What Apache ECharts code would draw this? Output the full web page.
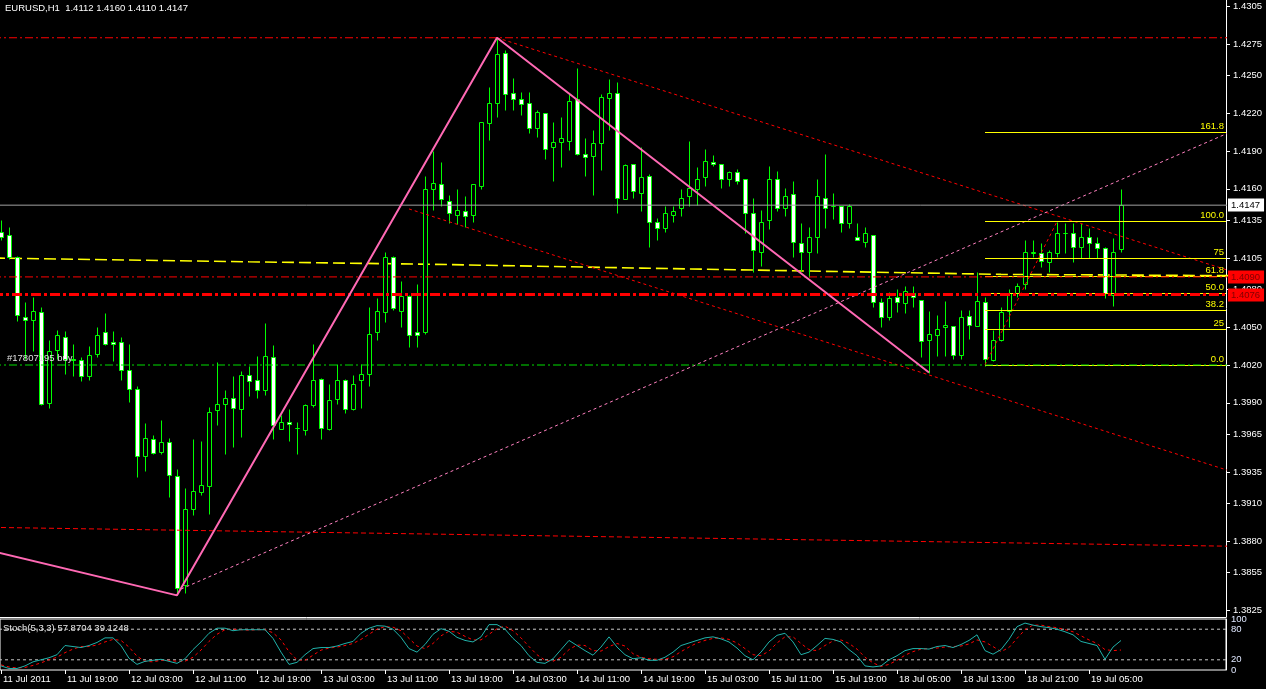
<!DOCTYPE html>
<html><head><meta charset="utf-8">
<script src="https://cdn.jsdelivr.net/npm/echarts@6/dist/echarts.min.js"></script>
<style>html,body{margin:0;padding:0;background:#000;overflow:hidden}#c{width:1266px;height:689px;}</style>
</head><body><div id="c"></div>
<script>
// ---------- text ----------
const headerText = 'EURUSD,H1  1.4112 1.4160 1.4110 1.4147';
const stochText = 'Stoch(5,3,3) 57.8704 39.1248';
const orderText = '#17807195 buy';

// ---------- candles (H1 bars, index 0 = 11 Jul 11:00) ----------
const opens = [1.4126,1.4123,1.4106,1.4058,1.4056,1.4062,1.3990,1.4032,1.4042,1.4025,
1.4024,1.4011,1.4029,1.4046,1.4038,1.4038,1.4016,1.4001,1.3948,1.3961,
1.3951,1.3959,1.3932,1.3845,1.3906,1.3919,1.3924,1.3984,1.3989,1.3994,
1.3985,1.4012,1.4008,1.4000,1.4026,1.3969,1.3975,1.3970,1.3968,1.3988,
1.4009,1.3969,1.3993,1.4008,1.3985,1.4008,1.4013,1.4046,1.4062,1.4106,
1.4063,1.4075,1.4046,1.4046,1.4160,1.4164,1.4150,1.4139,1.4142,1.4139,
1.4162,1.4212,1.4228,1.4268,1.4236,1.4231,1.4228,1.4208,1.4220,1.4193,
1.4197,1.4198,1.4231,1.4188,1.4186,1.4196,1.4232,1.4236,1.4152,1.4180,
1.4157,1.4170,1.4134,1.4129,1.4139,1.4145,1.4154,1.4160,1.4169,1.4181,
1.4180,1.4168,1.4173,1.4168,1.4141,1.4110,1.4135,1.4168,1.4145,1.4156,
1.4117,1.4110,1.4122,1.4153,1.4146,1.4146,1.4133,1.4122,1.4118,1.4123,
1.4070,1.4058,1.4074,1.4069,1.4077,1.4072,1.4040,1.4044,1.4050,1.4051,
1.4028,1.4059,1.4051,1.4070,1.4024,1.4040,1.4063,1.4077,1.4084,1.4109,
1.4109,1.4102,1.4109,1.4125,1.4125,1.4114,1.4122,1.4117,1.4113,1.4076,
1.4112];
const highs = [1.4135,1.4130,1.4107,1.4070,1.4074,1.4066,1.4040,1.4048,1.4047,1.4037,
1.4026,1.4035,1.4050,1.4061,1.4047,1.4042,1.4037,1.4003,1.3974,1.3964,
1.3976,1.3962,1.3937,1.3922,1.3961,1.3960,1.3987,1.4022,1.4000,1.4011,
1.4015,1.4019,1.4027,1.4053,1.4036,1.3980,1.3985,1.3975,1.3989,1.4037,
1.4010,1.4005,1.4021,1.4009,1.4012,1.4021,1.4066,1.4073,1.4110,1.4107,
1.4087,1.4076,1.4084,1.4170,1.4190,1.4181,1.4155,1.4160,1.4154,1.4164,
1.4213,1.4241,1.4280,1.4270,1.4248,1.4237,1.4237,1.4223,1.4220,1.4213,
1.4217,1.4235,1.4256,1.4200,1.4207,1.4235,1.4247,1.4245,1.4180,1.4180,
1.4193,1.4172,1.4137,1.4146,1.4146,1.4160,1.4198,1.4177,1.4192,1.4187,
1.4180,1.4174,1.4176,1.4168,1.4153,1.4143,1.4178,1.4174,1.4161,1.4166,
1.4133,1.4130,1.4168,1.4188,1.4157,1.4146,1.4148,1.4133,1.4130,1.4123,
1.4073,1.4078,1.4080,1.4083,1.4083,1.4072,1.4063,1.4060,1.4071,1.4051,
1.4064,1.4064,1.4094,1.4074,1.4048,1.4066,1.4080,1.4085,1.4119,1.4119,
1.4117,1.4111,1.4134,1.4133,1.4133,1.4133,1.4129,1.4122,1.4114,1.4121,
1.4160];
const lows = [1.4119,1.4104,1.4055,1.4025,1.4031,1.3988,1.3986,1.4025,1.4013,1.4011,
1.4007,1.4008,1.4026,1.4036,1.4023,1.4008,1.3991,1.3931,1.3936,1.3949,
1.3949,1.3915,1.3837,1.3839,1.3901,1.3917,1.3902,1.3972,1.3949,1.3955,
1.3963,1.3995,1.3994,1.3996,1.3961,1.3969,1.3960,1.3949,1.3964,1.3987,
1.3961,1.3968,1.3989,1.3982,1.3984,1.3986,1.4003,1.4040,1.4054,1.4064,
1.4050,1.4034,1.4034,1.4045,1.4143,1.4146,1.4133,1.4132,1.4130,1.4134,
1.4160,1.4199,1.4217,1.4223,1.4223,1.4219,1.4204,1.4201,1.4184,1.4166,
1.4177,1.4191,1.4187,1.4170,1.4155,1.4175,1.4207,1.4141,1.4152,1.4153,
1.4142,1.4114,1.4119,1.4126,1.4134,1.4138,1.4146,1.4147,1.4162,1.4178,
1.4161,1.4162,1.4164,1.4125,1.4094,1.4099,1.4128,1.4142,1.4138,1.4106,
1.4095,1.4090,1.4109,1.4129,1.4136,1.4126,1.4129,1.4119,1.4114,1.4066,
1.4050,1.4056,1.4062,1.4061,1.4066,1.4026,1.4014,1.4027,1.4027,1.4025,
1.4025,1.4041,1.4051,1.4019,1.4023,1.4039,1.4050,1.4074,1.4080,1.4106,
1.4098,1.4094,1.4106,1.4109,1.4102,1.4105,1.4105,1.4105,1.4073,1.4067,
1.4110];
const closes = [1.4122,1.4106,1.4060,1.4056,1.4063,1.3989,1.4031,1.4044,1.4025,1.4024,
1.4011,1.4028,1.4044,1.4037,1.4037,1.4016,1.4001,1.3948,1.3962,1.3950,
1.3959,1.3933,1.3843,1.3906,1.3920,1.3925,1.3983,1.3989,1.3994,1.3986,
1.4012,1.4007,1.4000,1.4027,1.3972,1.3975,1.3973,1.3970,1.3988,1.4008,
1.3970,1.3992,1.4008,1.3985,1.4005,1.4013,1.4045,1.4063,1.4106,1.4065,
1.4075,1.4044,1.4044,1.4160,1.4165,1.4152,1.4141,1.4143,1.4138,1.4164,
1.4213,1.4228,1.4267,1.4235,1.4231,1.4227,1.4208,1.4221,1.4192,1.4197,
1.4200,1.4230,1.4188,1.4185,1.4196,1.4233,1.4236,1.4153,1.4179,1.4158,
1.4169,1.4134,1.4129,1.4141,1.4142,1.4153,1.4161,1.4168,1.4182,1.4180,
1.4168,1.4173,1.4166,1.4141,1.4111,1.4134,1.4168,1.4145,1.4154,1.4118,
1.4110,1.4122,1.4154,1.4145,1.4146,1.4133,1.4146,1.4119,1.4125,1.4070,
1.4058,1.4073,1.4070,1.4079,1.4074,1.4039,1.4045,1.4049,1.4052,1.4028,
1.4058,1.4052,1.4071,1.4025,1.4040,1.4062,1.4077,1.4083,1.4110,1.4110,
1.4103,1.4110,1.4125,1.4125,1.4114,1.4122,1.4117,1.4113,1.4077,1.4110,
1.4147];

// ---------- stochastic ----------
const stochK = [8,3,3,8,16,20,24,30,48,46,
44,48,54,63,63,48,23,11,17,19,
21,17,13,22,40,55,72,82,82,77,
79,79,79,79,62,35,11,15,30,42,
44,44,47,52,56,72,82,87,86,80,
64,42,35,50,70,81,76,64,58,55,
65,89,89,80,62,48,28,15,13,22,
40,58,48,38,29,45,65,45,30,22,
24,19,19,25,35,48,53,58,63,65,
61,55,43,28,20,35,55,68,72,55,
30,35,48,62,60,55,40,28,8,6,
8,20,28,38,42,42,41,46,48,44,
50,58,69,38,31,40,60,85,92,88,
85,83,80,75,69,56,52,48,21,45,
57.8704];
const stochD = [10,6,4,5,9,14,20,25,34,41,
46,46,49,55,60,58,45,27,17,16,
19,19,17,17,25,39,56,70,79,80,
79,78,79,79,73,59,36,20,19,29,
39,43,45,48,52,60,70,80,85,84,
77,62,47,42,52,67,76,74,66,59,
59,70,81,86,77,63,46,30,19,17,
25,40,49,48,38,37,46,52,47,32,
25,22,21,21,26,36,45,53,58,62,
63,60,53,42,30,28,37,53,65,65,
52,40,38,48,57,59,52,41,25,14,
7,11,19,29,36,41,42,43,45,46,
47,51,59,55,46,36,44,62,79,88,
88,85,83,79,75,67,59,52,40,38,
39.1248];
const stochLevels = [80, 20];
const stochTicks = [0, 20, 80, 100];

// ---------- axes ----------
const timeTickIdx = [0,8,16,24,32,40,48,56,64,72,80,88,96,104,112,120,128,136];
const timeTickLabels = ['11 Jul 2011','11 Jul 19:00','12 Jul 03:00','12 Jul 11:00','12 Jul 19:00','13 Jul 03:00','13 Jul 11:00','13 Jul 19:00','14 Jul 03:00','14 Jul 11:00','14 Jul 19:00','15 Jul 03:00','15 Jul 11:00','15 Jul 19:00','18 Jul 05:00','18 Jul 13:00','18 Jul 21:00','19 Jul 05:00'];
const priceTicks = [1.4305,1.4275,1.4250,1.4220,1.4190,1.4160,1.4135,1.4105,1.4080,1.4050,1.4020,1.3990,1.3965,1.3935,1.3910,1.3880,1.3855,1.3825];

// ---------- drawn objects ([bar index, price]) ----------
const currentPrice = 1.4147;
const topLevel = 1.4280;
const redLevelA = 1.4090;
const redLevelB = 1.4076;
const orderLevel = 1.4020;
const zigzag = [[-1,1.3872],[22,1.3837],[62,1.4280],[116,1.4014]];
const channelUpper = [[62,1.4280],[154,1.4094]];
const channelLower = [[51,1.4144],[154,1.3935]];
const risingLine = [[22.5,1.3842],[154,1.4206]];
const lowLine = [[-1,1.3891],[154,1.3876]];
const maLine = [[-1,1.4105],[31,1.4102],[54,1.4100],[80,1.4097],[125,1.4092],[154,1.4091]];
const fibAnchor = [[123,1.4020],[132,1.4134]];
const fibStartBar = 123;
const fibLabels = ['0.0','25','38.2','50.0','61.8','75','100.0','161.8'];
const fibPrices = [1.4020,1.4048,1.4063,1.4077,1.4090,1.4105,1.4134,1.4205];

// ---------- chart ----------
const X_MIN = -0.125, X_MAX = 153.125, Y_MIN = 1.38198, Y_MAX = 1.43100;
const X_LEFT = -1, X_RIGHT = 154;
const FONT = '"Liberation Sans", Arial, sans-serif';
const FS = 9.5;
const GREEN = '#00ff00';

function lineSeries(points, color, width, type, z, axisIdx) {
  const a = axisIdx || 0;
  return { type: 'line', xAxisIndex: a, yAxisIndex: a, data: points, symbol: 'none', silent: true,
    animation: false, clip: true, z: z || 4, lineStyle: { color: color, width: width, type: type } };
}
function levelSeries(value, color, width, type, z, axisIdx) {
  return lineSeries([[X_LEFT, value], [X_RIGHT, value]], color, width, type, z, axisIdx);
}

// price box on the right scale for a level
function priceBox(value, bg, fg, z) {
  return {
    type: 'custom', xAxisIndex: 0, yAxisIndex: 0, clip: false, z: z || 8, animation: false, silent: true,
    data: [[0, value]],
    encode: { x: 0, y: 1 },
    renderItem: function (params, api) {
      const cs = params.coordSys;
      const yy = api.coord([0, api.value(1)])[1];
      return { type: 'text', x: cs.x + cs.width + 2, y: Math.round(yy),
        style: { text: api.value(1).toFixed(4), fill: fg, font: FS + 'px ' + FONT, align: 'left', verticalAlign: 'middle',
          backgroundColor: bg, padding: [2, 4, 1, 3] } };
    }
  };
}

const orderLabelSeries = {
  type: 'custom', xAxisIndex: 0, yAxisIndex: 0, clip: false, z: 8, animation: false, silent: true,
  data: [[0, orderLevel]],
  encode: { x: 0, y: 1 },
  renderItem: function (params, api) {
    const cs = params.coordSys;
    const yy = api.coord([0, api.value(1)])[1];
    return { type: 'text', x: cs.x + 7, y: Math.round(yy) - 2,
      style: { text: orderText, fill: '#e0e0e0', font: FS + 'px ' + FONT, align: 'left', verticalAlign: 'bottom' } };
  }
};

const candleSeries = {
  type: 'custom', xAxisIndex: 0, yAxisIndex: 0, clip: true, z: 3, animation: false, silent: true,
  data: opens.map((o, i) => [i, o, highs[i], lows[i], closes[i]]),
  encode: { x: 0, y: [1, 2, 3, 4] },
  renderItem: function (params, api) {
    const i = api.value(0), o = api.value(1), h = api.value(2), l = api.value(3), c = api.value(4);
    const pO = api.coord([i, o]), pH = api.coord([i, h]), pL = api.coord([i, l]), pC = api.coord([i, c]);
    const x = Math.round(pO[0] - 0.5) + 0.5;
    const yH = Math.round(pH[1]) + 0.5, yL = Math.round(pL[1]) + 0.5;
    const yO = Math.round(pO[1]) + 0.5, yC = Math.round(pC[1]) + 0.5;
    const top = Math.min(yO, yC), bot = Math.max(yO, yC);
    const bull = c >= o;
    return { type: 'group', children: [
      { type: 'line', shape: { x1: x, y1: yH, x2: x, y2: yL }, style: { stroke: GREEN, lineWidth: 1 } },
      { type: 'rect', shape: { x: x - 2, y: top, width: 4, height: bot - top },
        style: { fill: bull ? '#000000' : '#ffffff', stroke: GREEN, lineWidth: 1 } }
    ] };
  }
};

const fibSeries = {
  type: 'custom', xAxisIndex: 0, yAxisIndex: 0, clip: false, z: 5, animation: false, silent: true,
  data: fibPrices.map((p, k) => [fibStartBar, p, k]),
  encode: { x: 0, y: 1 },
  renderItem: function (params, api) {
    const p0 = api.coord([api.value(0), api.value(1)]);
    const right = params.coordSys.x + params.coordSys.width;
    const y = Math.round(p0[1] - 0.5) + 0.5;
    const k = api.value(2);
    return { type: 'group', children: [
      { type: 'line', shape: { x1: Math.round(p0[0]), y1: y, x2: right, y2: y }, style: { stroke: '#ffff00', lineWidth: 1 } },
      { type: 'text', x: right - 2, y: y - 1,
        style: { text: fibLabels[k], fill: '#ffff00', font: FS + 'px ' + FONT, align: 'right', verticalAlign: 'bottom' } }
    ] };
  }
};

const option = {
  backgroundColor: '#000000',
  animation: false,
  title: [
    { text: headerText, left: 5, top: 3, padding: 0, textStyle: { color: '#ffffff', fontSize: FS, fontWeight: 'normal', fontFamily: FONT } },
    { text: stochText, left: 3, top: 623, padding: 0, textStyle: { color: '#e8e8e8', fontSize: FS, fontWeight: 'normal', fontFamily: FONT } }
  ],
  grid: [
    { left: 0, top: 0, width: 1226, height: 617 },
    { left: 0, top: 619, width: 1226, height: 51, show: true, borderColor: '#ffffff', borderWidth: 1, backgroundColor: 'transparent' }
  ],
  xAxis: [
    { type: 'value', gridIndex: 0, min: X_MIN, max: X_MAX, splitLine: { show: false },
      axisLine: { show: true, onZero: false, lineStyle: { color: '#ffffff' } }, axisTick: { show: false }, axisLabel: { show: false } },
    { type: 'value', gridIndex: 1, min: X_MIN, max: X_MAX, splitLine: { show: false },
      axisLine: { show: false, onZero: false },
      axisTick: { show: true, customValues: timeTickIdx, length: 4, lineStyle: { color: '#ffffff' } },
      axisLabel: { show: true, customValues: timeTickIdx, color: '#ffffff', fontSize: FS, fontFamily: FONT, align: 'left',
        margin: 4, padding: [0, 0, 0, 2],
        formatter: v => { const k = timeTickIdx.indexOf(Math.round(v)); return k >= 0 ? timeTickLabels[k] : ''; } } }
  ],
  yAxis: [
    { type: 'value', gridIndex: 0, position: 'right', min: Y_MIN, max: Y_MAX, splitLine: { show: false },
      axisLine: { show: true, onZero: false, lineStyle: { color: '#ffffff' } },
      axisTick: { show: true, customValues: priceTicks, length: 4, lineStyle: { color: '#ffffff' } },
      axisLabel: { show: true, customValues: priceTicks, color: '#ffffff', fontSize: FS, fontFamily: FONT, margin: 7,
        formatter: v => v.toFixed(4) } },
    { type: 'value', gridIndex: 1, position: 'right', min: 0, max: 100, splitLine: { show: false },
      axisLine: { show: true, onZero: false, lineStyle: { color: '#ffffff' } },
      axisTick: { show: false },
      axisLabel: { show: true, customValues: stochTicks, color: '#e0e8ff', fontSize: FS, fontFamily: FONT, margin: 5 } }
  ],
  series: [
    lineSeries(maLine, '#ffff00', 1.6, [12, 5], 2),
    candleSeries,
    levelSeries(topLevel, '#ff0000', 1, [8, 3, 2, 3], 5),
    levelSeries(orderLevel, '#00dd00', 1, [8, 3, 2, 3], 5),
    levelSeries(redLevelA, '#ff0000', 1, [8, 3, 2, 3], 5),
    levelSeries(redLevelB, '#ff0000', 3, [10, 3, 3, 3], 5),
    levelSeries(currentPrice, '#a0a0a0', 1, 'solid', 5),
    priceBox(redLevelA, '#ff0000', '#800000', 8),
    priceBox(redLevelB, '#ff0000', '#800000', 8),
    priceBox(currentPrice, '#ffffff', '#000000', 8),
    orderLabelSeries,
    lineSeries(lowLine, '#ff0000', 1, [5, 3]),
    lineSeries(channelUpper, '#ff0000', 1, [3, 3]),
    lineSeries(channelLower, '#ff0000', 1, [3, 3]),
    lineSeries(fibAnchor, '#ff0000', 1, [3, 3]),
    lineSeries(risingLine, '#ff80c0', 1, [3, 3]),
    fibSeries,
    lineSeries(zigzag, '#ff69b4', 2, 'solid', 7),
    levelSeries(stochLevels[0], '#c8c8c8', 1, [3, 3], 2, 1),
    levelSeries(stochLevels[1], '#c8c8c8', 1, [3, 3], 2, 1),
    lineSeries(stochD.map((v, i) => [i, v]), '#ff0000', 1, [3, 3], 3, 1),
    lineSeries(stochK.map((v, i) => [i, v]), '#20b2aa', 1, 'solid', 4, 1)
  ]
};

const chart = echarts.init(document.getElementById('c'), null, { renderer: 'canvas' });
chart.setOption(option);
</script>
</body></html>
